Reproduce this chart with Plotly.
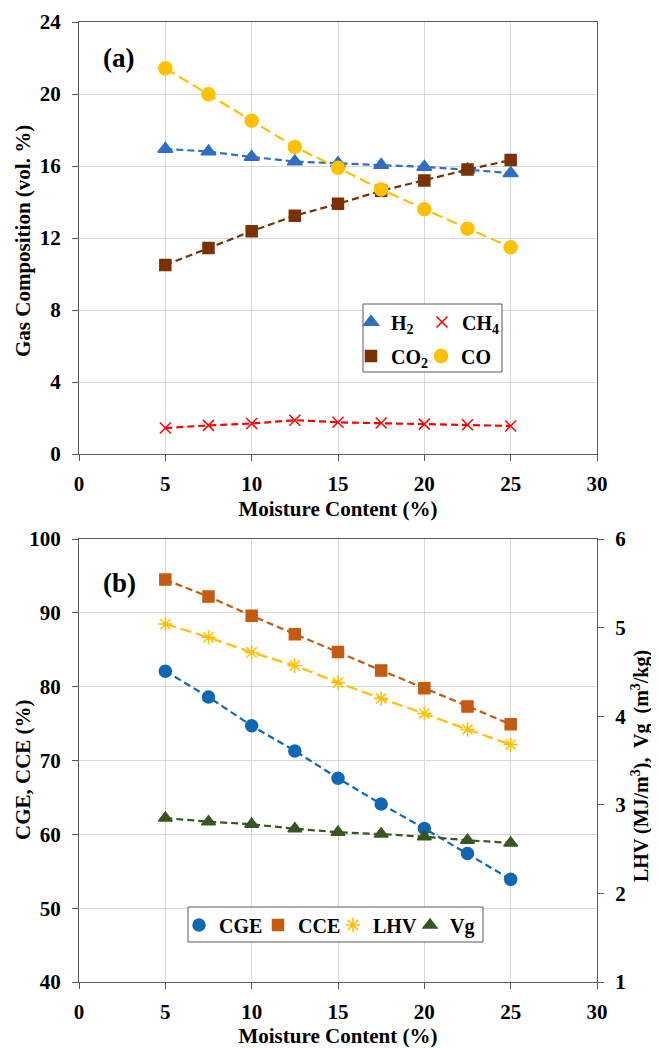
import plotly.graph_objects as go

moisture = [5, 7.5, 10, 12.5, 15, 17.5, 20, 22.5, 25]
h2 = [16.95, 16.8, 16.5, 16.25, 16.15, 16.05, 15.95, 15.8, 15.6]
ch4 = [1.44, 1.59, 1.69, 1.88, 1.76, 1.72, 1.66, 1.62, 1.56]
co2 = [10.5, 11.45, 12.38, 13.24, 13.9, 14.62, 15.2, 15.8, 16.33]
co = [21.43, 19.98, 18.52, 17.06, 15.9, 14.7, 13.6, 12.52, 11.48]
cge = [82.1, 78.6, 74.7, 71.3, 67.6, 64.1, 60.8, 57.4, 53.9]
cce = [94.5, 92.2, 89.6, 87.1, 84.7, 82.2, 79.8, 77.3, 74.9]
lhv = [5.04, 4.89, 4.72, 4.57, 4.38, 4.20, 4.03, 3.85, 3.68]
vg = [2.85, 2.81, 2.78, 2.73, 2.69, 2.67, 2.64, 2.60, 2.57]

FONT = "Liberation Serif"
OFF = 8  # page body margin
W, H = 659 - OFF, 1048 - OFF
# plot area in page pixels: x 79..597, y 22..982
ML, MR, MT, MB = 79 - OFF, 659 - 597, 22 - OFF, 1048 - 982
PW, PH = W - ML - MR, H - MT - MB


def px(v):
    return (v - OFF - ML) / PW


def py(v):
    return 1 - (v - OFF - MT) / PH


fig = go.Figure()
SHORT = "7px,4px"
LONG = "11px,5px"


def add_series(x, y, name, color, symbol, size, xa, ya, legend, dash=SHORT, lw=2.2):
    fig.add_trace(go.Scatter(x=x, y=y, mode="lines", line=dict(color=color, dash=dash, width=lw),
                             xaxis=xa, yaxis=ya, showlegend=False, hoverinfo="skip"))
    fig.add_trace(go.Scatter(x=x, y=y, mode="markers", name=name,
                             marker=dict(color=color, symbol=symbol, size=size,
                                         line=dict(color=color, width=1.5)),
                             xaxis=xa, yaxis=ya, legend=legend))


# top panel
add_series(moisture, h2, "H<sub>2</sub>", "#2E6FC4", "triangle-up", 13, "x", "y", "legend")
add_series(moisture, ch4, "CH<sub>4</sub>", "#FF0000", "x-thin", 11, "x", "y", "legend2")
add_series(moisture, co2, "CO<sub>2</sub>", "#7B3100", "square", 11, "x", "y", "legend3")
add_series(moisture, co, "CO", "#FFC000", "circle", 13, "x", "y", "legend4", dash=LONG)

# bottom panel
add_series(moisture, cge, "CGE", "#1068B4", "circle", 12, "x2", "y2", "legend5")
add_series(moisture, cce, "CCE", "#C55A11", "square", 11, "x2", "y2", "legend6")
add_series(moisture, lhv, "LHV", "#FFC000", "asterisk-open", 12, "x2", "y3", "legend7", dash=LONG)
add_series(moisture, vg, "Vg", "#375623", "triangle-up", 12, "x2", "y3", "legend8")

tickfont = dict(family=FONT, size=21, color="black", weight="bold")
titlefont = dict(family=FONT, size=21, color="black", weight="bold")
legfont = dict(family=FONT, size=20, color="black", weight="bold")
axcommon = dict(showline=True, linecolor="#595959", linewidth=1.3, gridcolor="#D9D9D9",
                gridwidth=1.3, ticks="outside", ticklen=6, tickcolor="#595959",
                tickfont=tickfont, zeroline=False, automargin=False)
xcommon = dict(axcommon, ticklabelstandoff=5)
ycommon = dict(axcommon, ticklabelstandoff=7)

top_dom = [py(454), py(22)]
bot_dom = [0, py(539)]


def leg(marker_x, center_y):
    return dict(orientation="h", x=px(marker_x - 26), y=py(center_y), xanchor="left", yanchor="middle",
                bgcolor="rgba(0,0,0,0)", font=legfont, itemwidth=30)


def ytitle(text, x, y, size=21):
    return dict(text=text, x=px(x), y=py(y), xref="paper", yref="paper", xanchor="center",
                yanchor="middle", textangle=-90, showarrow=False,
                font=dict(titlefont, size=size))


fig.update_layout(
    width=W, height=H, margin=dict(l=ML, r=MR, t=MT, b=MB),
    plot_bgcolor="white", paper_bgcolor="white",
    xaxis=dict(domain=[0, 1], anchor="y", range=[0, 30], dtick=5, mirror=True,
               title=dict(text="Moisture Content (%)", font=titlefont, standoff=5), **xcommon),
    yaxis=dict(domain=top_dom, anchor="x", range=[0, 24], dtick=4, mirror=True, **ycommon),
    xaxis2=dict(domain=[0, 1], anchor="y2", range=[0, 30], dtick=5, mirror=True,
                title=dict(text="Moisture Content (%)", font=titlefont, standoff=6), **xcommon),
    yaxis2=dict(domain=bot_dom, anchor="x2", range=[40, 100], dtick=10, **ycommon),
    yaxis3=dict(overlaying="y2", side="right", anchor="x2", range=[1, 6], dtick=1, showgrid=False,
                **{k: v for k, v in ycommon.items() if k not in ("gridcolor", "gridwidth")}),
    legend=leg(377, 322),
    legend2=leg(448, 322),
    legend3=leg(377, 356),
    legend4=leg(447, 356),
    legend5=leg(205, 925),
    legend6=leg(284, 925),
    legend7=leg(359, 925),
    legend8=leg(436, 925),
    shapes=[
        dict(type="rect", xref="paper", yref="paper", x0=px(363), x1=px(502), y0=py(372), y1=py(304),
             line=dict(color="#595959", width=1), fillcolor="white", layer="above"),
        dict(type="rect", xref="paper", yref="paper", x0=px(188), x1=px(483), y0=py(942), y1=py(907),
             line=dict(color="#595959", width=1), fillcolor="white", layer="above"),
    ],
    annotations=[
        dict(text="(a)", x=px(101), y=py(58), xref="paper", yref="paper", xanchor="left", yanchor="middle",
             showarrow=False, font=dict(family=FONT, size=27, color="black", weight="bold")),
        dict(text="(b)", x=px(101), y=py(583), xref="paper", yref="paper", xanchor="left", yanchor="middle",
             showarrow=False, font=dict(family=FONT, size=27, color="black", weight="bold")),
        ytitle("Gas Composition (vol. %)", 23, 241),
        ytitle("CGE, CCE (%)", 23, 770),
        ytitle("LHV (MJ/m<sup>3</sup>),  Vg  (m<sup>3</sup>/kg)", 640, 766, size=20),
    ],
)

fig.write_html("out.html")
